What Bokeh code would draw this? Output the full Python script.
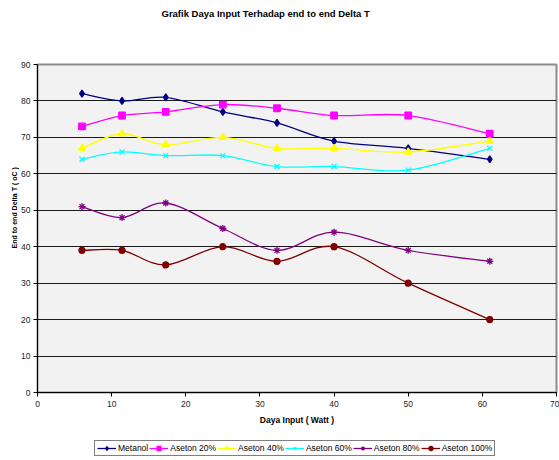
from bokeh.plotting import figure
from bokeh.layouts import column
from bokeh.models import Range1d, FixedTicker, Legend, LegendItem, Title
from bokeh.embed import file_html
from bokeh.resources import INLINE

# ---- data ----
daya_input = [6, 11.4, 17.3, 25, 32.3, 40, 50, 61]
metanol = [82, 80, 81, 77, 74, 69, 67, 64]
aseton_20 = [73, 76, 77, 79, 78, 76, 76, 71]
aseton_40 = [67, 71, 68, 70, 67, 67, 66, 69]
aseton_60 = [64, 66, 65, 65, 62, 62, 61, 67]
aseton_80 = [51, 48, 52, 45, 39, 44, 39, 36]
aseton_100 = [39, 39, 35, 40, 36, 40, 30, 20]
series_names = ["Metanol", "Aseton 20%", "Aseton 40%", "Aseton 60%", "Aseton 80%", "Aseton 100%"]
x_ticks = [0, 10, 20, 30, 40, 50, 60, 70]
y_ticks = [0, 10, 20, 30, 40, 50, 60, 70, 80, 90]

FONT = "Liberation Sans"

p = figure(width=559, height=430, output_backend="svg", toolbar_location=None,
           x_range=Range1d(0, 70), y_range=Range1d(0, 90),
           min_border_left=37, min_border_right=3, min_border_top=64, min_border_bottom=38)
p.background_fill_color = "#f2f2f2"
p.border_fill_color = "white"
p.outline_line_color = "#8c8c8c"
p.outline_line_width = 2

# grid
p.xgrid.visible = False
p.ygrid.ticker = FixedTicker(ticks=y_ticks)
p.ygrid.grid_line_color = "#1a1a1a"
p.ygrid.grid_line_width = 1

# axes
for ax in (p.xaxis[0], p.yaxis[0]):
    ax.axis_line_color = "black"
    ax.axis_line_width = 1
    ax.major_tick_line_color = "black"
    ax.major_tick_out = 4
    ax.major_tick_in = 0
    ax.minor_tick_line_color = None
    ax.major_label_text_font = FONT
    ax.major_label_text_font_size = "8.5px"
    ax.major_label_text_color = "#222222"
p.xaxis.ticker = FixedTicker(ticks=x_ticks)
p.yaxis.ticker = FixedTicker(ticks=y_ticks)
p.yaxis.major_label_standoff = 3
p.xaxis.major_label_standoff = 4

# titles (chart title, y-axis title, x-axis title)
p.add_layout(Title(text=" ", standoff=33, text_font=FONT, text_font_size="9.5px"), "above")
p.add_layout(Title(text="Grafik Daya Input Terhadap end to end Delta T", align="left", offset=124,
                   standoff=0, text_font=FONT, text_font_size="9.5px", text_font_style="bold",
                   text_color="black"), "above")
p.add_layout(Title(text="End to end Delta T ( oC )", align="left", offset=144, standoff=2,
                   text_font=FONT, text_font_size="7px", text_font_style="bold",
                   text_color="black"), "left")
p.add_layout(Title(text="Daya Input ( Watt )", align="center", standoff=6,
                   text_font=FONT, text_font_size="8.5px", text_font_style="bold",
                   text_color="black"), "below")


def smooth(xs, ys, t=1 / 6):
    n = len(xs)
    out = {k: [] for k in ("x0", "y0", "x1", "y1", "cx0", "cy0", "cx1", "cy1")}
    for i in range(n - 1):
        a = i - 1 if i > 0 else i
        d = i + 2 if i + 2 < n else i + 1
        out["x0"].append(xs[i]); out["y0"].append(ys[i])
        out["x1"].append(xs[i + 1]); out["y1"].append(ys[i + 1])
        out["cx0"].append(xs[i] + (xs[i + 1] - xs[a]) * t)
        out["cy0"].append(ys[i] + (ys[i + 1] - ys[a]) * t)
        out["cx1"].append(xs[i + 1] - (xs[d] - xs[i]) * t)
        out["cy1"].append(ys[i + 1] - (ys[d] - ys[i]) * t)
    return out


series = [metanol, aseton_20, aseton_40, aseton_60, aseton_80, aseton_100]
colors = ["#000080", "#ff00ff", "#ffff00", "#00ffff", "#800080", "#800000"]
markers = ["diamond", "square", "triangle", "x", "asterisk", "circle"]
sizes = [7, 6.5, 7, 7, 7, 6]

# legend strip: a second figure whose view lies outside the data, so only the legend shows
lf = figure(width=559, height=30, output_backend="svg", toolbar_location=None,
            x_range=Range1d(0, 70), y_range=Range1d(-20, -10),
            x_axis_type=None, y_axis_type=None,
            min_border_left=0, min_border_right=0, min_border_top=0, min_border_bottom=0)
lf.outline_line_color = None
lf.background_fill_color = "white"
lf.xgrid.visible = False
lf.ygrid.visible = False

items = []
for name, ys, c, m, s in zip(series_names, series, colors, markers, sizes):
    seg = smooth(daya_input, ys)
    p.bezier(x0=seg["x0"], y0=seg["y0"], x1=seg["x1"], y1=seg["y1"],
             cx0=seg["cx0"], cy0=seg["cy0"], cx1=seg["cx1"], cy1=seg["cy1"],
             line_color=c, line_width=1.3)
    p.scatter(x=daya_input, y=ys, marker=m, size=s, fill_color=c, line_color=c, line_width=1.3)
    l_line = lf.line(x=daya_input, y=ys, line_color=c, line_width=1.3)
    l_mark = lf.scatter(x=daya_input, y=ys, marker=m, size=s, fill_color=c, line_color=c, line_width=1.3)
    items.append(LegendItem(label=name, renderers=[l_line, l_mark]))

legend = Legend(items=items, orientation="horizontal", location=(57, 4),
                border_line_color="black", border_line_width=1,
                background_fill_color="white", background_fill_alpha=1,
                label_text_font=FONT, label_text_font_size="8.5px", label_text_color="black",
                glyph_width=19, glyph_height=10, label_height=10, label_standoff=2,
                spacing=1, padding=2, margin=0)
lf.add_layout(legend, "center")

layout = column(p, lf, spacing=0)
open("out.html", "w").write(file_html(layout, INLINE))
